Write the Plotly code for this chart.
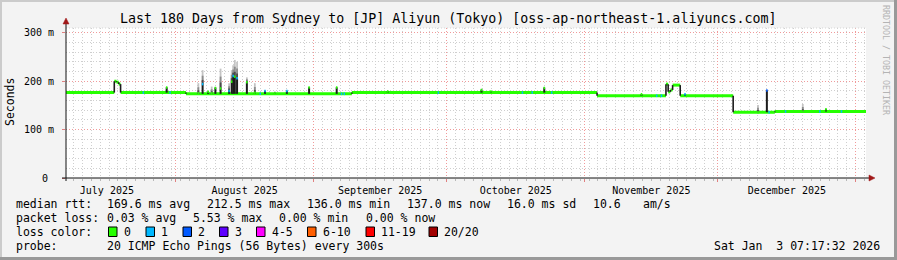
import plotly.graph_objects as go
import pandas as pd

# ---------------- data ----------------
title = "Last 180 Days from Sydney to [JP] Aliyun (Tokyo) [oss-ap-northeast-1.aliyuncs.com]"
x_start = "2025-07-07 07:17:32"
x_end = "2026-01-03 07:17:32"

# median rtt level (ms), step changes
level_dates = ["2025-07-07 07:17", "2025-07-18 04:00", "2025-07-18 16:00", "2025-07-19 04:00",
               "2025-07-19 14:00", "2025-08-03 07:00", "2025-09-09 15:00", "2025-11-03 19:00",
               "2025-11-19 07:00", "2025-11-19 19:00", "2025-11-20 07:00", "2025-11-20 19:00",
               "2025-11-22 12:00", "2025-12-04 10:00", "2025-12-13 19:00", "2026-01-03 07:17"]
level_ms = [176.5, 200, 198, 194, 176.5, 174, 176.5, 170, 194, 178, 182, 192, 170, 136, 137.5, 137.5]

# spikes: date, median (ms), top of smoke (ms), lost pings
spike_dates = ["2025-07-24 17:00", "2025-07-29 23:00", "2025-07-30 17:00", "2025-08-06 02:00",
               "2025-08-07 01:00", "2025-08-08 07:00", "2025-08-09 02:00", "2025-08-09 22:00",
               "2025-08-11 02:00", "2025-08-13 00:00", "2025-08-13 14:00", "2025-08-13 22:00",
               "2025-08-14 07:00", "2025-08-14 19:00", "2025-08-17 00:00", "2025-08-18 19:00",
               "2025-08-20 00:00", "2025-08-21 02:00", "2025-08-23 07:00", "2025-08-26 00:00",
               "2025-08-31 00:00", "2025-09-06 05:00", "2025-09-07 07:00", "2025-09-07 22:00",
               "2025-09-17 17:00", "2025-09-29 02:00", "2025-10-08 19:00", "2025-10-10 22:00",
               "2025-10-18 00:00", "2025-10-20 05:00", "2025-10-22 22:00", "2025-10-24 14:00",
               "2025-11-13 19:00", "2025-11-17 05:00", "2025-11-18 07:00", "2025-11-23 14:00",
               "2025-12-10 00:00", "2025-12-12 00:00", "2025-12-12 12:00", "2025-12-16 05:00",
               "2025-12-20 02:00", "2025-12-23 22:00", "2025-12-25 07:00", "2025-12-28 19:00"]
spike_median = [176.5, 187, 176.5, 175, 194, 178, 175, 186, 185, 180, 199, 211, 209, 206, 198, 176,
                174, 180, 175, 180, 187, 187, 174, 174, 179, 176.5, 182, 179, 176.5, 176.5, 186, 176.5,
                173, 170, 170, 173, 136, 181, 136, 137.5, 137.5, 137.5, 142, 137.5]
spike_top = [176.5, 188, 176.5, 196, 223, 180, 189, 188, 226, 196, 223, 233, 244, 240, 208, 196,
             174, 181, 179, 181, 188, 188, 174, 174, 179, 176.5, 184, 179, 176.5, 176.5, 188, 176.5,
             174, 170, 170, 173, 151, 182, 136, 137.5, 153, 137.5, 143, 137.5]
spike_loss = [1, 0, 1, 0, 1, 0, 0, 0, 0, 1, 0, 1, 0, 1, 0, 0,
              1, 1, 0, 1, 0, 0, 1, 1, 0, 1, 0, 0, 1, 1, 0, 1,
              0, 1, 1, 1, 0, 2, 1, 1, 0, 1, 0, 1]

loss_labels = ["0", "1", "2", "3", "4-5", "6-10", "11-19", "20/20"]
loss_colors = ["#26ff00", "#00b8ff", "#0059ff", "#5e00ff", "#ff00ff", "#ff5e00", "#ff0000", "#a10000"]

y_tickvals = [0, 100, 200, 300]
y_ticktext = ["0\u00a0", "100 m", "200 m", "300 m"]

rtt_stats = ["169.6 ms avg", "212.5 ms max", "136.0 ms min", "137.0 ms now", "16.0 ms sd", "10.6", "am/s"]
loss_stats = ["0.03 % avg", "5.53 % max", "0.00 % min", "0.00 % now"]
probe_text = "20 ICMP Echo Pings (56 Bytes) every 300s"
stamp_text = "Sat Jan\u00a0 3 07:17:32 2026"

# ---------------- layout geometry (pixels) ----------------
W, H = 897, 260
L, R, T, B = 66, 866, 28, 178
MONO = "DejaVu Sans Mono"


def PX(x):
    return (x - L) / (R - L)


def PY(y):
    return (B - y) / (B - T)


fig = go.Figure()

ld = pd.to_datetime(level_dates)
sd = pd.to_datetime(spike_dates)
half = pd.Timedelta(hours=4)


def base_at(d):
    v = level_ms[0]
    for i, t in enumerate(ld):
        if t <= d:
            v = level_ms[i]
    return v


def add_lines(xs, ys, color, width):
    fig.add_trace(go.Scatter(x=xs, y=ys, mode="lines", line=dict(color=color, width=width),
                             hoverinfo="skip", showlegend=False, connectgaps=False))


# invisible trace on the month axis so that it is drawn
fig.add_trace(go.Scatter(x=[ld[0]], y=[None], xaxis="x2", mode="lines",
                         hoverinfo="skip", showlegend=False))

# median segments (green, 0 loss)
xs, ys = [], []
for i in range(len(ld) - 1):
    xs += [ld[i], ld[i + 1], None]
    ys += [level_ms[i], level_ms[i], None]
add_lines(xs, ys, loss_colors[0], 3)

# dark connectors at level changes
xs, ys = [], []
for i in range(1, len(ld) - 1):
    xs += [ld[i], ld[i], None]
    ys += [level_ms[i - 1], level_ms[i], None]
add_lines(xs, ys, "#1c1c1c", 1.6)

# smoke (grey gradient above median)
for frac, col in [(1.0, "#c4c4c4"), (0.6, "#8c8c8c"), (0.3, "#4a4a4a")]:
    xs, ys = [], []
    for d, m, t in zip(sd, spike_median, spike_top):
        if t > m:
            xs += [d, d, None]
            ys += [m, m + (t - m) * frac, None]
    add_lines(xs, ys, col, 1.8)

# dense smoke from base up to median
xs, ys = [], []
for d, m in zip(sd, spike_median):
    b = base_at(d)
    if abs(m - b) > 0.6:
        xs += [d, d, None]
        ys += [b, m, None]
add_lines(xs, ys, "#1c1c1c", 2)

# median marks coloured by loss
for k in sorted(set(spike_loss)):
    xs, ys = [], []
    for d, m, l in zip(sd, spike_median, spike_loss):
        if l == k:
            xs += [d - half, d + half, None]
            ys += [m, m, None]
    add_lines(xs, ys, loss_colors[k], 2.5)

# ---------------- axes ----------------
# primary x: 2-day minor grid, no labels
fig.update_layout(xaxis=dict(
    type="date", range=[x_start, x_end],
    tick0="2025-07-09", dtick=172800000, showticklabels=False,
    showgrid=True, gridcolor="#cfcfcf", griddash="1px,2px", gridwidth=1,
    ticks="outside", ticklen=2, tickcolor="#b8b8b8",
    showline=False, zeroline=False, fixedrange=True,
))
# overlay x: month grid (red) and period labels
fig.update_layout(xaxis2=dict(
    type="date", range=[x_start, x_end], overlaying="x", side="bottom", anchor="y",
    tick0="2025-07-01", dtick="M1", ticklabelmode="period", tickformat="%B %Y",
    tickfont=dict(family=MONO, size=10, color="#000"),
    showgrid=True, gridcolor="#f09a9a", griddash="1px,2px", gridwidth=1,
    ticks="outside", ticklen=3, tickcolor="#e08080",
    showline=False, zeroline=False, fixedrange=True,
))
fig.update_yaxes(
    range=[0, 310], tickvals=y_tickvals, ticktext=y_ticktext,
    tickfont=dict(family=MONO, size=10, color="#000"),
    showgrid=True, gridcolor="#f09a9a", griddash="1px,2px",
    ticks="outside", ticklen=3, tickcolor="#e08080", ticklabelstandoff=6,
    minor=dict(dtick=20, showgrid=True, gridcolor="#cfcfcf", griddash="1px,2px"),
    showline=False, zeroline=False, fixedrange=True,
)

shapes = []
# outer 3D border
shapes.append(dict(type="line", xref="paper", yref="paper", x0=PX(0), x1=PX(W), y0=PY(1), y1=PY(1),
                   line=dict(color="#cbcbcb", width=2)))
shapes.append(dict(type="line", xref="paper", yref="paper", x0=PX(1), x1=PX(1), y0=PY(0), y1=PY(H),
                   line=dict(color="#cbcbcb", width=2)))
shapes.append(dict(type="line", xref="paper", yref="paper", x0=PX(0), x1=PX(W), y0=PY(H - 1.5), y1=PY(H - 1.5),
                   line=dict(color="#999999", width=3)))
shapes.append(dict(type="line", xref="paper", yref="paper", x0=PX(W - 1.5), x1=PX(W - 1.5), y0=PY(0), y1=PY(H),
                   line=dict(color="#999999", width=3)))
# top edge of plot grid
shapes.append(dict(type="line", xref="paper", yref="paper", x0=0, x1=1, y0=1, y1=1,
                   line=dict(color="#d4d4d4", width=1, dash="1px,2px")))
# axes
shapes.append(dict(type="line", xref="paper", yref="paper", x0=PX(L - 4), x1=PX(R + 4), y0=0, y1=0,
                   line=dict(color="#101010", width=1)))
shapes.append(dict(type="line", xref="paper", yref="paper", x0=0, x1=0, y0=PY(B + 3), y1=PY(T - 4),
                   line=dict(color="#101010", width=1)))
# arrows
shapes.append(dict(type="path", xref="paper", yref="paper",
                   path=f"M {PX(R+3)},{PY(B-3)} L {PX(R+9)},{PY(B)} L {PX(R+3)},{PY(B+3)} Z",
                   fillcolor="#a01818", line=dict(color="#a01818", width=0.5)))
shapes.append(dict(type="path", xref="paper", yref="paper",
                   path=f"M {PX(L-3)},{PY(T-4)} L {PX(L)},{PY(T-10)} L {PX(L+3)},{PY(T-4)} Z",
                   fillcolor="#a01818", line=dict(color="#a01818", width=0.5)))

annotations = []


def txt(x, y, s, size=11.5, anchor="left", color="#000", angle=0):
    annotations.append(dict(x=PX(x), y=PY(y), xref="paper", yref="paper", text=s, showarrow=False,
                            xanchor=anchor, yanchor="middle", textangle=angle,
                            font=dict(family=MONO, size=size, color=color), borderpad=0))


txt(448, 19, title, size=13.3, anchor="center")
txt(10, 102, "Seconds", size=11.5, anchor="center", angle=-90)
txt(886, 60, "RRDTOOL / TOBI OETIKER", size=8.3, anchor="center", color="#b4b4b4", angle=90)

row_y = [204, 218, 232, 246]
txt(15, row_y[0], "median rtt:")
for x, s in zip([106, 206, 306, 406, 506, 592, 641.5], rtt_stats):
    txt(x, row_y[0], s)
txt(15, row_y[1], "packet loss:")
for x, s in zip([106, 192, 278, 364.5], loss_stats):
    txt(x, row_y[1], s)
txt(15, row_y[2], "loss color:")
box_x = [108.5, 146, 183, 219.5, 256.5, 307.5, 366, 429]
for bx, lab, col in zip(box_x, loss_labels, loss_colors):
    shapes.append(dict(type="rect", xref="paper", yref="paper", x0=PX(bx), x1=PX(bx + 8.5),
                       y0=PY(236.5), y1=PY(227), fillcolor=col, line=dict(color="#000", width=1)))
    txt(bx + 14, row_y[2], lab)
txt(15, row_y[3], "probe:")
txt(106, row_y[3], probe_text)
txt(881, row_y[3], stamp_text, anchor="right")

fig.update_layout(
    width=W, height=H, autosize=False,
    margin=dict(l=L, r=W - R, t=T, b=H - B, pad=0),
    paper_bgcolor="#f3f3f3", plot_bgcolor="#ffffff",
    shapes=shapes, annotations=annotations, showlegend=False,
    font=dict(family=MONO, color="#000"),
)

fig.write_html("out.html", config={"displayModeBar": False})
